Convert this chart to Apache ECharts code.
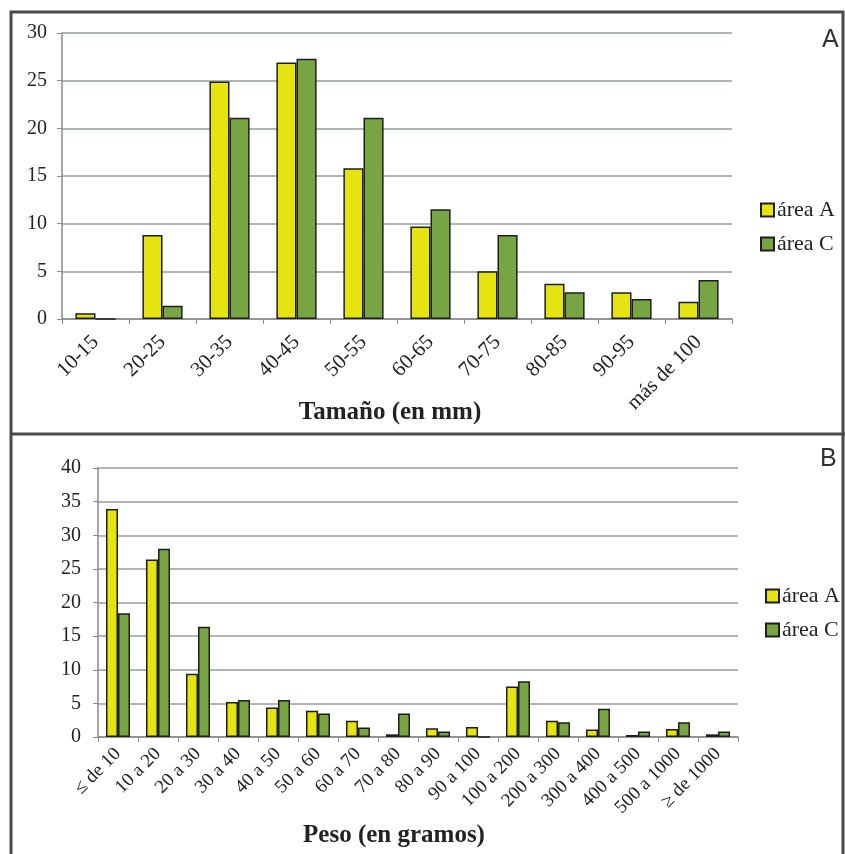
<!DOCTYPE html>
<html><head><meta charset="utf-8">
<script src="https://cdn.jsdelivr.net/npm/echarts@6/dist/echarts.min.js"></script>
<style>html,body{margin:0;padding:0;background:#fff}#c{width:845px;height:854px}</style>
</head><body><div id="c"></div>
<script>
const catsTop = ['10-15','20-25','30-35','40-45','50-55','60-65','70-75','80-85','90-95','más de 100'];
const topAreaA = [0.6, 8.8, 24.9, 26.9, 15.8, 9.7, 5.0, 3.7, 2.8, 1.8];
const topAreaC = [0, 1.4, 21.1, 27.3, 21.1, 11.5, 8.8, 2.8, 2.1, 4.1];
const catsBottom = ['≤ de 10','10 a 20','20 a 30','30 a 40','40 a 50','50 a 60','60 a 70','70 a 80','80 a 90','90 a 100','100 a 200','200 a 300','300 a 400','400 a 500','500 a 1000','≥ de 1000'];
const botAreaA = [33.9, 26.4, 9.4, 5.2, 4.4, 3.9, 2.4, 0.4, 1.3, 1.5, 7.5, 2.4, 1.1, 0.3, 1.2, 0.4];
const botAreaC = [18.4, 28.0, 16.4, 5.5, 5.5, 3.5, 1.4, 3.5, 0.8, 0, 8.3, 2.2, 4.2, 0.8, 2.2, 0.8];
const seriesNames = ['área A', 'área C'];
const axisTitles = ['Tamaño (en mm)', 'Peso (en gramos)'];
const panelLabels = ['A', 'B'];

const serif = '"Liberation Serif", "DejaVu Serif", serif';
const sans = '"Liberation Sans", Arial, sans-serif';
const yellow = '#e6e410';
const green = '#78a543';
const gridColor = '#979d9d';
const axisColor = '#8a8a8a';

function xAx(idx, cats, fontSize, margin) {
  return {
    type: 'category', gridIndex: idx, data: cats,
    axisLine: {lineStyle: {color: axisColor, width: 1.5}},
    axisTick: {show: true, length: 5, lineStyle: {color: axisColor}},
    axisLabel: {rotate: 45, color: '#222', fontFamily: serif, fontSize: fontSize, margin: margin, interval: 0}
  };
}
function yAx(idx, max, margin) {
  return {
    type: 'value', gridIndex: idx, min: 0, max: max, interval: 5,
    axisLine: {show: true, lineStyle: {color: axisColor, width: 1.5}},
    axisTick: {show: true, length: 5, lineStyle: {color: axisColor}},
    splitLine: {lineStyle: {color: gridColor, width: 1.5}},
    axisLabel: {color: '#222', fontFamily: serif, fontSize: 20, margin: margin}
  };
}
function bar(name, color, data, idx) {
  return {
    name: name, type: 'bar', xAxisIndex: idx, yAxisIndex: idx, data: data,
    barGap: '0%', barCategoryGap: '40%',
    itemStyle: {color: color, borderColor: '#1e1e1e', borderWidth: 1.5},
    emphasis: {disabled: true}
  };
}
function legend(left, top) {
  return {
    data: seriesNames, orient: 'vertical', left: left, top: top, padding: 0,
    itemWidth: 13, itemHeight: 13, itemGap: 12, icon: 'rect',
    textStyle: {fontFamily: serif, fontSize: 22, color: '#222', padding: [0, 0, 0, -2]},
    selectedMode: false
  };
}
function titleText(text, x, y) {
  return {type: 'text', x: x, y: y, silent: true,
    style: {text: text, fontFamily: serif, fontWeight: 'bold', fontSize: 25, fill: '#222', align: 'center', verticalAlign: 'middle'}};
}

const chart = echarts.init(document.getElementById('c'), null, {renderer: 'canvas'});
chart.setOption({
  animation: false,
  backgroundColor: '#fff',
  grid: [
    {left: 62, right: 113, top: 33, bottom: 535},
    {left: 98, right: 107, top: 468, bottom: 117}
  ],
  xAxis: [xAx(0, catsTop, 21, 20), xAx(1, catsBottom, 19, 14)],
  yAxis: [yAx(0, 30, 15), yAx(1, 40, 17)],
  legend: [legend(760, 199), legend(765, 585)],
  series: [
    bar(seriesNames[0], yellow, topAreaA, 0),
    bar(seriesNames[1], green, topAreaC, 0),
    bar(seriesNames[0], yellow, botAreaA, 1),
    bar(seriesNames[1], green, botAreaC, 1)
  ],
  graphic: [
    {type: 'rect', shape: {x: 11, y: 12, width: 832, height: 860}, style: {fill: 'none', stroke: '#4a4a4a', lineWidth: 3}, silent: true},
    {type: 'line', shape: {x1: 11, y1: 434, x2: 845, y2: 434}, style: {stroke: '#4a4a4a', lineWidth: 3}, silent: true},
    titleText(axisTitles[0], 390, 413),
    titleText(axisTitles[1], 394, 836),
    {type: 'text', left: 822, top: 28, style: {text: panelLabels[0], fontFamily: sans, fontSize: 25, fill: '#333'}},
    {type: 'text', left: 820, top: 447, style: {text: panelLabels[1], fontFamily: sans, fontSize: 25, fill: '#333'}}
  ]
});
</script></body></html>
